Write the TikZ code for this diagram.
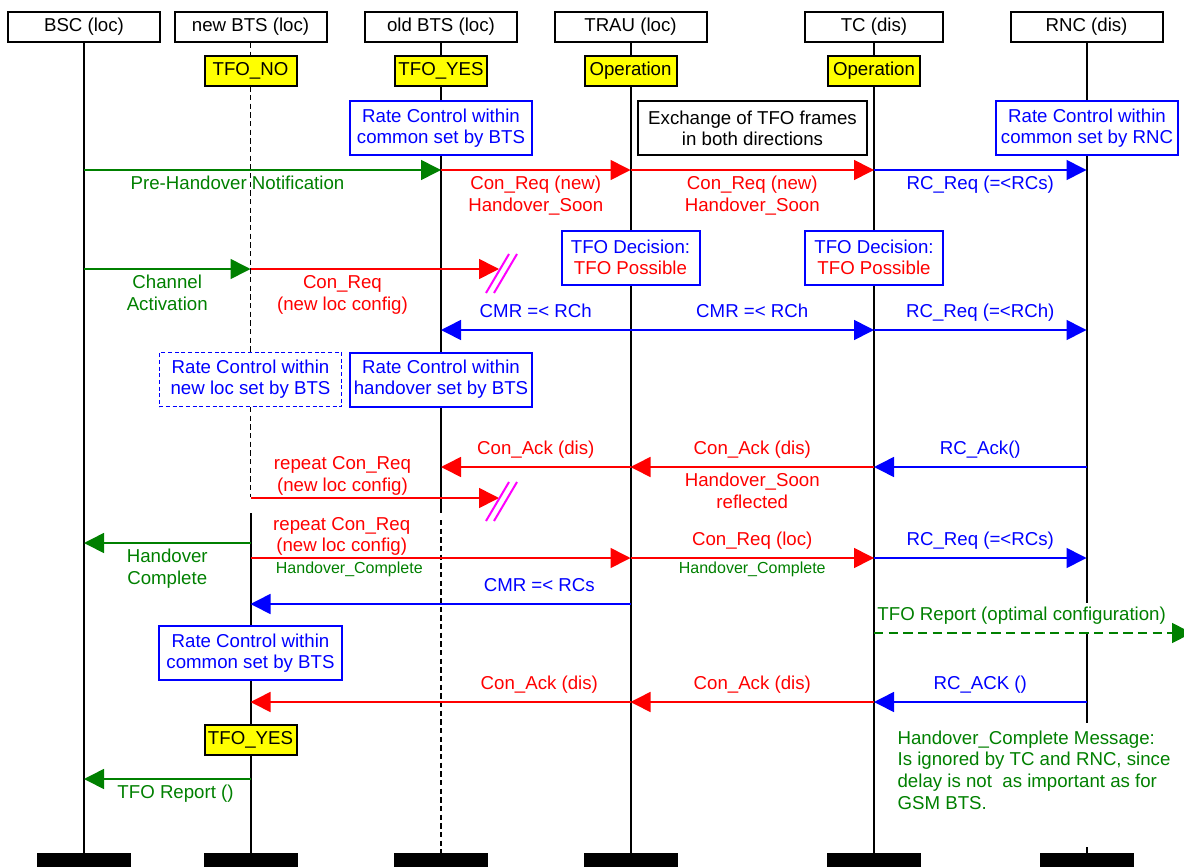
\documentclass[tikz,border=0pt]{standalone}
\usepackage{fontspec}
\setmainfont{Liberation Sans}
\usetikzlibrary{arrows.meta,positioning,calc}
\definecolor{tfored}{RGB}{255,0,0}
\definecolor{tfoblue}{RGB}{0,0,255}
\definecolor{tfogreen}{RGB}{0,128,0}
\definecolor{tfomagenta}{RGB}{255,0,255}
\definecolor{tfoyellow}{RGB}{255,255,0}
\tikzset{
  entity/.style={draw=black, line width=1.5pt, fill=white, align=center,
    minimum width=114pt, minimum height=22.5pt, inner sep=1pt, font=\fontsize{14}{16.5}\selectfont},
  tfostate/.style={draw=black, line width=1.5pt, fill=tfoyellow, minimum width=69pt,
    minimum height=22.5pt, inner sep=1pt, font=\fontsize{14}{16.5}\selectfont},
  rcbox/.style={draw=tfoblue, line width=1.5pt, fill=white, text=tfoblue, align=center,
    minimum width=137pt, minimum height=40.5pt, inner sep=1pt, font=\fontsize{14}{15.75}\selectfont},
  notebox/.style={draw=black, line width=1.5pt, fill=white, align=center,
    minimum width=172pt, minimum height=40.5pt, inner sep=1pt, font=\fontsize{14}{15.75}\selectfont},
  endbar/.style={fill=black, minimum width=70.5pt, minimum height=10.5pt, inner sep=0pt},
  life/.style={line width=1.5pt, black},
  lifedash/.style={line width=0.8pt, black, dash pattern=on 4pt off 2.5pt},
  msg/.style={line width=1.2pt, -{Triangle[length=15pt,width=15pt]}},
  redarr/.style={msg, tfored},
  bluearr/.style={msg, tfoblue},
  greenarr/.style={msg, tfogreen},
  lbl/.style={font=\fontsize{14}{16.5}\selectfont, align=center, inner sep=1pt},
  smalllbl/.style={font=\fontsize{12}{14}\selectfont, inner sep=1pt, text=tfogreen},
  slash/.style={line width=1.5pt, tfomagenta}
}

\begin{document}
\begin{tikzpicture}[x=0.75pt, y=-0.75pt]
  \useasboundingbox (0,0) rectangle (1184,867);
  \node[entity] (bsc) at (84,27) {BSC (loc)};
  \node[entity] (nbts) at (250.5,27) {new BTS (loc)};
  \node[entity] (obts) at (441,27) {old BTS (loc)};
  \node[entity] (trau) at (630.5,27) {TRAU (loc)};
  \node[entity, minimum width=103.5pt] (tc) at (874,27) {TC (dis)};
  \node[entity] (rnc) at (1086.5,27) {RNC (dis)};
  \foreach \e in {bsc,nbts,obts,trau,tc,rnc}
    \node[endbar] (\e-end) at (\e |- 0,860) {};

  % lifelines
  \foreach \e in {bsc,trau,tc}
    \draw[life] (\e.south) -- (\e-end.north);
  \draw[lifedash] (nbts.south) -- (nbts |- 0,497);
  \draw[life] (nbts |- 0,513) -- (nbts-end.north);
  \draw[life] (obts.south) -- (obts |- 0,513);
  \draw[lifedash] (obts |- 0,520) -- (obts-end.north);
  \draw[life] (rnc.south) -- (rnc |- 0,603);
  \draw[life] (rnc |- 0,633) -- (rnc |- 0,723);
  \draw[life] (rnc |- 0,847) -- (rnc-end.north);

  \node[tfostate] (nbts-no) at (nbts |- 0,71) {TFO\_NO};
  \node[tfostate] (obts-yes) at (obts |- 0,71) {TFO\_YES};
  \node[tfostate] (trau-op) at (trau |- 0,71) {Operation};
  \node[tfostate] (tc-op) at (tc |- 0,71) {Operation};
  \node[tfostate] (nbts-yes) at (nbts |- 0,740) {TFO\_YES};

  \node[rcbox] (obts-rc) at (obts |- 0,128) {Rate Control within\\common set by BTS};
  \node[notebox] (frames) at (752.5,128) {Exchange of TFO frames\\in both directions};
  \node[rcbox] (rnc-rc) at (1087,128) {Rate Control within\\common set by RNC};
  \node[rcbox, minimum width=103.5pt] (trau-dec) at (trau |- 0,257.5) {TFO Decision:\\\textcolor{tfored}{TFO Possible}};
  \node[rcbox, minimum width=103.5pt] (tc-dec) at (tc |- 0,257.5) {TFO Decision:\\\textcolor{tfored}{TFO Possible}};
  \node[rcbox, line width=0.8pt, dash pattern=on 3pt off 2pt] (nbts-rc) at (nbts |- 0,379.5) {Rate Control within\\new loc set by BTS};
  \node[rcbox] (obts-ho) at (obts |- 0,379.5) {Rate Control within\\handover set by BTS};
  \node[rcbox] (nbts-rc2) at (nbts |- 0,653) {Rate Control within\\common set by BTS};

  \draw[greenarr] (bsc |- 0,170) -- (obts |- 0,170) node[lbl, pos=0.43, below=3pt] {Pre-Handover Notification};
  \draw[redarr] (obts |- 0,170) -- (trau |- 0,170) node[lbl, midway, below=3pt] {Con\_Req (new)\\Handover\_Soon};
  \draw[redarr] (trau |- 0,170) -- (tc |- 0,170) node[lbl, midway, below=3pt] {Con\_Req (new)\\Handover\_Soon};
  \draw[bluearr] (tc |- 0,170) -- (rnc |- 0,170) node[lbl, midway, below=3pt] {RC\_Req (=<RCs)};

  \draw[greenarr] (bsc |- 0,269) -- (nbts |- 0,269) node[lbl, midway, below=3pt] {Channel\\Activation};
  \coordinate (lost1) at (499,269);
  \draw[redarr] (nbts |- 0,269) -- (lost1) node[lbl, pos=0.37, below=3pt] {Con\_Req\\(new loc config)};
  \draw[slash] ($(lost1)+(-13,24)$) -- ($(lost1)+(10,-15)$);
  \draw[slash] ($(lost1)+(-5,24)$) -- ($(lost1)+(18,-15)$);

  \draw[bluearr] (trau |- 0,330) -- (obts |- 0,330) node[lbl, midway, above=5pt, text depth=3pt] {CMR =< RCh};
  \draw[bluearr] (trau |- 0,330) -- (tc |- 0,330) node[lbl, midway, above=5pt, text depth=3pt] {CMR =< RCh};
  \draw[bluearr] (tc |- 0,330) -- (rnc |- 0,330) node[lbl, midway, above=5pt] {RC\_Req (=<RCh)};

  \draw[redarr] (tc |- 0,467) -- (trau |- 0,467) node[lbl, midway, above=5pt] {Con\_Ack (dis)}
    node[lbl, midway, below=3pt] {Handover\_Soon\\reflected};
  \draw[redarr] (trau |- 0,467) -- (obts |- 0,467) node[lbl, midway, above=5pt] {Con\_Ack (dis)};
  \draw[bluearr] (rnc |- 0,467) -- (tc |- 0,467) node[lbl, midway, above=5pt] {RC\_Ack()};

  \coordinate (lost2) at (499,498);
  \draw[redarr] (nbts |- 0,498) -- (lost2) node[lbl, pos=0.37, above=0pt] {repeat Con\_Req\\(new loc config)};
  \draw[slash] ($(lost2)+(-13,23)$) -- ($(lost2)+(10,-16)$);
  \draw[slash] ($(lost2)+(-5,23)$) -- ($(lost2)+(18,-16)$);

  \draw[greenarr] (nbts |- 0,543) -- (bsc |- 0,543) node[lbl, midway, below=3pt] {Handover\\Complete};
  \draw[redarr] (nbts |- 0,558) -- (trau |- 0,558) node[lbl, pos=0.24, above=0pt] {repeat Con\_Req\\(new loc config)}
    node[smalllbl, pos=0.26, below=1.3pt] {Handover\_Complete};
  \draw[redarr] (trau |- 0,558) -- (tc |- 0,558) node[lbl, midway, above=5pt] {Con\_Req (loc)}
    node[smalllbl, midway, below=1.3pt] {Handover\_Complete};
  \draw[bluearr] (tc |- 0,558) -- (rnc |- 0,558) node[lbl, midway, above=5pt] {RC\_Req (=<RCs)};
  \draw[bluearr] (trau |- 0,604) -- (nbts |- 0,604) node[lbl, pos=0.24, above=5pt, text depth=3pt] {CMR =< RCs};

  \coordinate (report) at (1192,633);
  \draw[greenarr, dash pattern=on 7pt off 4pt] (tc |- 0,633) -- (report)
    node[lbl, pos=0, anchor=south west, fill=white, text depth=3pt, xshift=1pt, yshift=4.5pt] {TFO Report (optimal configuration)};

  \draw[redarr] (trau |- 0,702) -- (nbts |- 0,702) node[lbl, pos=0.24, above=5pt] {Con\_Ack (dis)};
  \draw[redarr] (tc |- 0,702) -- (trau |- 0,702) node[lbl, midway, above=5pt] {Con\_Ack (dis)};
  \draw[bluearr] (rnc |- 0,702) -- (tc |- 0,702) node[lbl, midway, above=5pt] {RC\_ACK ()};

  \draw[greenarr] (nbts |- 0,779) -- (bsc |- 0,779) node[lbl, pos=0.45, below=3pt] {TFO Report ()};

  \node[lbl, anchor=north west, align=left, text=tfogreen, font=\fontsize{14}{16.3}\selectfont] (hcnote) at (896,729)
    {Handover\_Complete Message:\\Is ignored by TC and RNC, since\\delay is not\ \ as important as for\\GSM BTS.};
\end{tikzpicture}
\end{document}
